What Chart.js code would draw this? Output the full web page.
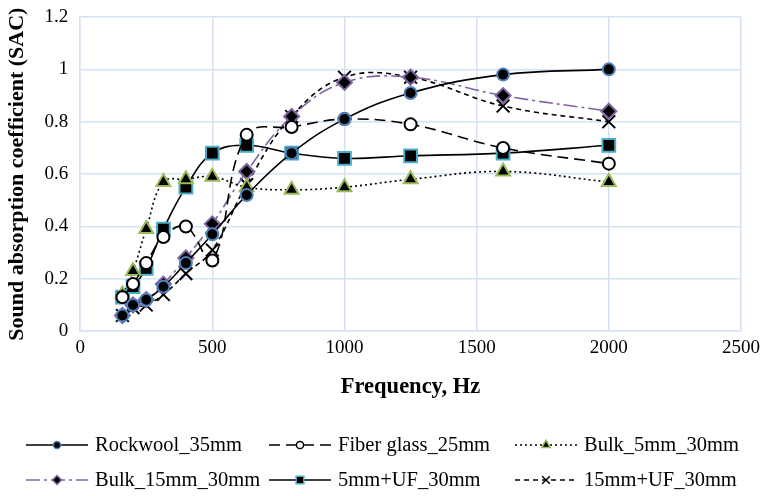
<!DOCTYPE html>
<html>
<head>
<meta charset="utf-8">
<script src="https://cdn.jsdelivr.net/npm/chart.js@4/dist/chart.umd.min.js"></script>
<style>
  body { margin: 0; background: #fff; }
  #wrap { width: 766px; height: 496px; }
</style>
</head>
<body>
<div id="wrap"><canvas id="myChart"></canvas></div>
<script>
var freqs = [160, 200, 250, 315, 400, 500, 630, 800, 1000, 1250, 1600, 2000]

var rockwool35 = [0.06, 0.10, 0.12, 0.17, 0.26, 0.37, 0.52, 0.68, 0.81, 0.91, 0.98, 1.00]
var fiberGlass25 = [0.13, 0.18, 0.26, 0.36, 0.40, 0.27, 0.75, 0.78, 0.81, 0.79, 0.70, 0.64]
var bulk5 = [0.14, 0.23, 0.39, 0.57, 0.58, 0.59, 0.55, 0.54, 0.55, 0.58, 0.61, 0.57]
var bulk15 = [0.06, 0.10, 0.12, 0.18, 0.28, 0.41, 0.61, 0.82, 0.95, 0.97, 0.90, 0.84]
var uf5 = [0.13, 0.17, 0.24, 0.39, 0.55, 0.68, 0.71, 0.68, 0.66, 0.67, 0.68, 0.71]
var uf15 = [0.06, 0.09, 0.10, 0.14, 0.22, 0.31, 0.56, 0.82, 0.97, 0.97, 0.86, 0.80]

var seriesNames = ['Rockwool_35mm', 'Fiber glass_25mm', 'Bulk_5mm_30mm',
                   'Bulk_15mm_30mm', '5mm+UF_30mm', '15mm+UF_30mm']

function pts(vals) {
    return freqs.map(function (f, i) { return { x: f, y: vals[i] } })
}

var serif = "'Liberation Serif', 'Times New Roman', serif"

var datasets = [
    { label: seriesNames[0], data: pts(rockwool35), borderColor: '#000', borderDash: [],
      pointStyle: 'circle', pointRadius: 6, pointBackgroundColor: '#000', pointBorderColor: '#4f81bd' },
    { label: seriesNames[1], data: pts(fiberGlass25), borderColor: '#000', borderDash: [11, 6],
      pointStyle: 'circle', pointRadius: 6, pointBackgroundColor: '#fff', pointBorderColor: '#000' },
    { label: seriesNames[2], data: pts(bulk5), borderColor: '#000', borderDash: [2, 3],
      pointStyle: 'triangle', pointRadius: 8, pointBackgroundColor: '#000', pointBorderColor: '#9bbb59' },
    { label: seriesNames[3], data: pts(bulk15), borderColor: '#8064a2', borderDash: [14, 4, 3, 4],
      pointStyle: 'rectRot', pointRadius: 7.5, pointBackgroundColor: '#000', pointBorderColor: '#8064a2' },
    { label: seriesNames[4], data: pts(uf5), borderColor: '#000', borderDash: [],
      pointStyle: 'rect', pointRadius: 9, pointBackgroundColor: '#000', pointBorderColor: '#4bacc6' },
    { label: seriesNames[5], data: pts(uf15), borderColor: '#000', borderDash: [5, 4],
      pointStyle: 'crossRot', pointRadius: 9, pointBackgroundColor: '#000', pointBorderColor: '#000' }
]
datasets.forEach(function (d) {
    d.showLine = true
    d.tension = 0.4
    d.borderWidth = 1.6
    d.pointBorderWidth = 2
    d.pointHoverRadius = d.pointRadius
})

// legend drawn below, Excel style: line with marker in the middle
var legendPlugin = {
    id: 'excelLegend',
    afterDraw: function (chart) {
        var ctx = chart.ctx
        var cols = [26, 269, 515]
        var rows = [445, 480]
        ctx.save()
        chart.data.datasets.forEach(function (d, i) {
            var x = cols[i % 3], y = rows[Math.floor(i / 3)]
            ctx.strokeStyle = d.borderColor
            ctx.lineWidth = 1.6
            ctx.setLineDash(d.borderDash)
            ctx.beginPath()
            ctx.moveTo(x, y)
            ctx.lineTo(x + 62, y)
            ctx.stroke()
            ctx.setLineDash([])
            ctx.fillStyle = d.pointBackgroundColor
            ctx.strokeStyle = d.pointBorderColor
            ctx.lineWidth = 1.5
            Chart.helpers.drawPoint(ctx, { pointStyle: d.pointStyle, radius: d.pointRadius * 0.6, borderWidth: 1.5 }, x + 31, y)
            ctx.fillStyle = '#000'
            ctx.font = '20.5px ' + serif
            ctx.textBaseline = 'middle'
            ctx.fillText(d.label, x + 69, y + 1)
        })
        ctx.restore()
    }
}

var ctx = document.getElementById('myChart').getContext('2d')
var myChart = new Chart(ctx, {
    type: 'scatter',
    data: { datasets: datasets },
    options: {
        responsive: true,
        maintainAspectRatio: false,
        animation: false,
        layout: { padding: { left: 4, right: 25, top: 0, bottom: 91 } },
        plugins: { legend: { display: false }, tooltip: { enabled: false } },
        scales: {
            x: {
                type: 'linear', min: 0, max: 2500,
                ticks: { stepSize: 500, color: '#000', font: { family: serif, size: 19 }, padding: 5,
                         callback: function (v) { return String(v) } },
                grid: { color: '#d6e2f1', lineWidth: 1.5, drawTicks: false },
                border: { color: '#d6e2f1', width: 1.5 },
                title: { display: true, text: 'Frequency, Hz', color: '#000',
                         font: { family: serif, size: 22.5, weight: 'bold' }, padding: { top: 10 } }
            },
            y: {
                min: 0, max: 1.2,
                afterFit: function (scale) { scale.paddingTop = 17 },
                ticks: { stepSize: 0.2, color: '#000', font: { family: serif, size: 19 }, padding: 12,
                         callback: function (v) { return String(Number(v.toFixed(1))) } },
                grid: { color: '#d6e2f1', lineWidth: 1.5, drawTicks: false },
                border: { color: '#d6e2f1', width: 1.5 },
                title: { display: true, text: 'Sound absorption coefficient (SAC)', color: '#000',
                         font: { family: serif, size: 22, weight: 'bold' }, padding: { top: 0, bottom: 2 } }
            }
        }
    },
    plugins: [legendPlugin]
})
</script>
</body>
</html>
